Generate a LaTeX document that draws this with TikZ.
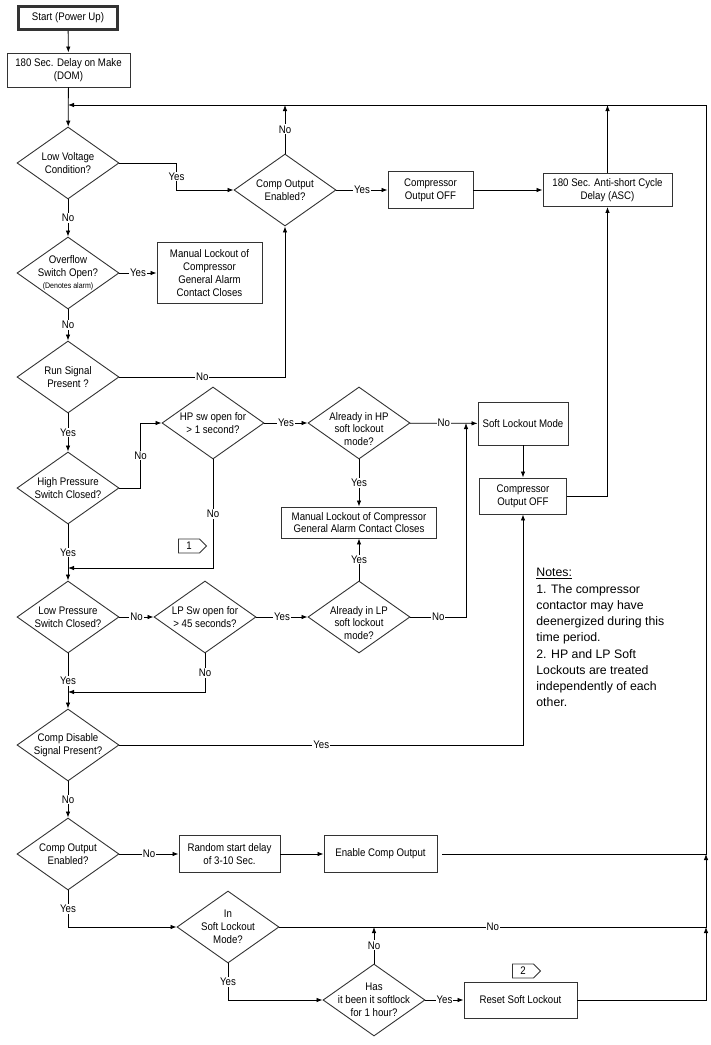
\documentclass[tikz,border=0pt]{standalone}
\usepackage{fontspec}
\setmainfont{Liberation Sans}[FakeStretch=0.88]
\newfontfamily\notesfont{Liberation Sans}
\usetikzlibrary{shapes.geometric, shapes.symbols, arrows.meta}

\begin{document}
\begin{tikzpicture}[>={Latex[length=6pt,width=4.5pt]}, x=1pt, y=-1pt,
  font=\fontsize{11}{12.8}\selectfont, line width=0.8pt,
  box/.style={draw=black!80, line width=0.9pt, align=center, inner sep=0pt},
  decision/.style={draw=black!80, diamond, line width=0.9pt, minimum width=102pt, minimum height=72pt, inner sep=0pt},
  txt/.style={align=center, inner sep=0pt},
  lbl/.style={fill=white, inner sep=1pt},
  tag/.style={draw=black!80, signal, signal to=east, line width=0.8pt, minimum width=28pt, minimum height=14pt, inner sep=0pt}]
  \useasboundingbox (0,0) rectangle (711,1045);

  % main column
  \node[box, line width=2.5pt, minimum width=99pt, minimum height=23pt] (start) at (68,18) {Start (Power Up)};
  \node[box, minimum width=123pt, minimum height=34pt] (dom) at (68.5,70) {180 Sec. Delay on Make\\(DOM)};
  \node[decision, label={[txt]center:{Low Voltage\\Condition?}}] (lv) at (68,163) {};
  \node[decision, label={[txt]center:{Overflow\\Switch Open?\\{\fontsize{8}{9}\selectfont(Denotes alarm)}}}] (ovf) at (68,273) {};
  \node[decision, label={[txt]center:{Run Signal\\Present ?}}] (run) at (68,377) {};
  \node[decision, label={[txt]center:{High Pressure\\Switch Closed?}}] (hps) at (68,488) {};
  \node[decision, label={[txt]center:{Low Pressure\\Switch Closed?}}] (lps) at (68,617) {};
  \node[decision, label={[txt]center:{Comp Disable\\Signal Present?}}] (dis) at (68,745) {};
  \node[decision, label={[txt]center:{Comp Output\\Enabled?}}] (cout2) at (68,854) {};

  % top row
  \node[decision, label={[txt]center:{Comp Output\\Enabled?}}] (cout1) at (285,190) {};
  \node[box, minimum width=85pt, minimum height=37pt] (off1) at (430.5,190) {Compressor\\Output OFF};
  \node[box, minimum width=129pt, minimum height=33pt] (asc) at (607.5,190) {180 Sec. Anti-short Cycle\\Delay (ASC)};
  \node[box, minimum width=105pt, minimum height=61pt] (man1) at (209.5,273) {Manual Lockout of\\Compressor\\General Alarm\\Contact Closes};

  % pressure switches
  \node[decision, label={[txt]center:{HP sw open for\\> 1 second?}}] (hpo) at (213,423) {};
  \node[decision, label={[txt, yshift=-6pt]center:{Already in HP\\soft lockout\\mode?}}] (hpin) at (359,423) {};
  \node[box, minimum width=90pt, minimum height=43pt] (soft) at (523,423.5) {Soft Lockout Mode};
  \node[box, minimum width=87pt, minimum height=36pt] (off2) at (523,496) {Compressor\\Output OFF};
  \node[box, minimum width=155pt, minimum height=31pt] (man2) at (359,522.5) {Manual Lockout of Compressor\\General Alarm Contact Closes};
  \node[decision, label={[txt]center:{LP Sw open for\\> 45 seconds?}}] (lpo) at (205,617) {};
  \node[decision, label={[txt, yshift=-6pt]center:{Already in LP\\soft lockout\\mode?}}] (lpin) at (359,617) {};
  \node[tag] (tag1) at (189,546) {1};

  % bottom rows
  \node[box, minimum width=101pt, minimum height=37pt] (rnd) at (229.5,854) {Random start delay\\of 3-10 Sec.};
  \node[box, minimum width=113pt, minimum height=37pt] (enb) at (380.5,854) {Enable Comp Output};
  \node[decision, label={[txt]center:{In\\Soft Lockout\\Mode?}}] (insoft) at (228,927) {};
  \node[decision, label={[txt]center:{Has\\it been it softlock\\for 1 hour?}}] (has) at (374,1000) {};
  \node[box, minimum width=113pt, minimum height=36pt] (rst) at (520.5,1000) {Reset Soft Lockout};
  \node[tag] (tag2) at (523,971) {2};

  \node[anchor=north west, align=left, inner sep=0pt, font=\notesfont\fontsize{12.3}{16.25}\selectfont] (notes) at (536,568)
    {\underline{Notes:}\\1. The compressor\\contactor may have\\deenergized during this\\time period.\\2. HP and LP Soft\\Lockouts are treated\\independently of each\\other.};

  \coordinate (top) at (68,105);
  \coordinate (rtop) at (706,105);
  \coordinate (jA) at (706,854);
  \coordinate (jB) at (706,927);
  \coordinate (jS) at (466,423);
  \coordinate (j1) at (68,568);
  \coordinate (j2) at (68,692);

  \draw[->] (start) -- (dom);
  \draw[->] (dom) -- (lv);
  \draw[->] (lv) -- node[lbl]{No} (ovf);
  \draw[->] (lv.east) -- ++(57,0) |- node[lbl, pos=0.25]{Yes} (cout1.west);
  \draw[->] (cout1.north) -- node[lbl]{No} (cout1.north |- top);
  \draw[->] (cout1) -- node[lbl]{Yes} (off1);
  \draw[->] (off1) -- (asc);
  \draw[->] (asc.north) -- (asc.north |- top);
  \draw[->] (ovf) -- node[lbl]{Yes} (man1);
  \draw[->] (ovf) -- node[lbl]{No} (run);
  \draw[->] (run.east) -| node[lbl, pos=0.25]{No} (cout1.south);
  \draw[->] (run) -- node[lbl]{Yes} (hps);
  \draw[->] (hps.east) -- ++(21,0) |- node[lbl, pos=0.25]{No} (hpo.west);
  \draw[->] (hpo) -- node[lbl]{Yes} (hpin);
  \draw[->] (hpin) -- node[lbl]{No} (soft);
  \draw[->] (hpin) -- node[lbl]{Yes} (man2);
  \draw[->] (lpin) -- node[lbl]{Yes} (man2);
  \draw[->] (lpin.east) -| node[lbl, pos=0.25]{No} (jS);
  \draw[->] (soft) -- (off2);
  \draw[->] (off2.east) -| (asc.south);
  \draw[->] (hpo.south) |- node[lbl, pos=0.25]{No} (j1);
  \draw[->] (hps) -- node[lbl]{Yes} (lps);
  \draw[->] (lps) -- node[lbl]{No} (lpo);
  \draw[->] (lpo) -- node[lbl]{Yes} (lpin);
  \draw[->] (lpo.south) |- node[lbl, pos=0.25]{No} (j2);
  \draw[->] (lps) -- node[lbl]{Yes} (dis);
  \draw[->] (dis.east) -| node[lbl, pos=0.25]{Yes} (off2.south);
  \draw[->] (dis) -- node[lbl]{No} (cout2);
  \draw[->] (cout2) -- node[lbl]{No} (rnd);
  \draw[->] (rnd) -- (enb);
  \draw[->, shorten <=5pt] (enb.east) -- (jA) -- (rtop) -- (top);
  \draw[->] (cout2.south) |- node[lbl, pos=0.25]{Yes} (insoft.west);
  \draw[->] (insoft.east) -- node[lbl]{No} (jB) -- (jA);
  \draw[->] (has.north) -- node[lbl]{No} (has.north |- jB);
  \draw[->] (insoft.south) |- node[lbl, pos=0.25]{Yes} (has.west);
  \draw[->] (has) -- node[lbl]{Yes} (rst);
  \draw[->] (rst.east) -| (jB);
\end{tikzpicture}
\end{document}
